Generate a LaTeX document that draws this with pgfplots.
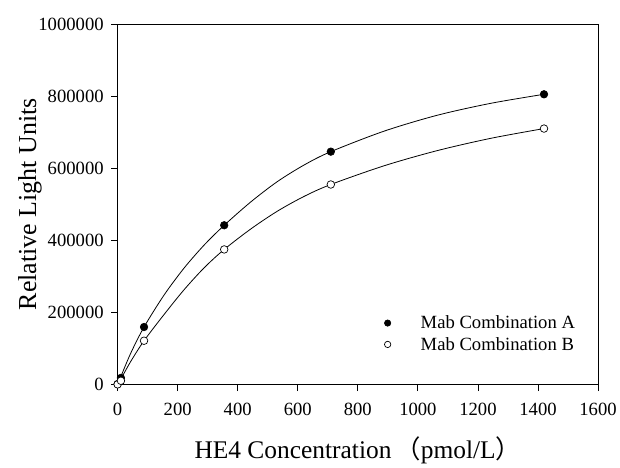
\documentclass[border=0pt]{standalone}
\usepackage{fontspec}
\setmainfont{Liberation Serif}
\newfontfamily\cjk{Noto Sans CJK SC}
\usepackage{pgfplots}
\pgfplotsset{compat=1.18}
\begin{document}
\begin{tikzpicture}
\begin{axis}[
  at={(0,0)}, anchor=south west,
  scale only axis, width=482bp, height=362bp,
  xmin=0, xmax=1600, ymin=0, ymax=1000000,
  xtick={0,200,...,1600}, ytick={0,200000,...,1000000},
  scaled y ticks=false, scaled x ticks=false,
  /pgf/number format/assume math mode=true,
  xticklabel style={/pgf/number format/fixed,/pgf/number format/1000 sep={}, yshift=-8bp},
  yticklabel style={/pgf/number format/fixed,/pgf/number format/1000 sep={}, xshift=-4bp},
  tick label style={font=\fontsize{18.7bp}{21bp}\selectfont},
  tick align=outside, tick pos=left, major tick length=6.5bp,
  axis line style={line width=0.8bp},
  every tick/.style={line width=0.8bp, black},
  xlabel={HE4 Concentration\hspace{4bp}{\cjk （}pmol/L{\cjk ）}},
  ylabel={Relative Light Units},
  every axis x label/.style={at={([yshift=-66bp]axis description cs:0.5,0)}, anchor=center, font=\fontsize{25.5bp}{28bp}\selectfont},
  every axis y label/.style={at={([xshift=-88bp]axis description cs:0,0.5)}, anchor=center, rotate=90, font=\fontsize{26bp}{28bp}\selectfont},
  legend style={at={(0.555,0.197)}, anchor=north west, draw=none, fill=none,
    font=\fontsize{18.7bp}{21bp}\selectfont, column sep=28bp, row sep=3bp,
    inner sep=0pt},
  legend image post style={mark size=3.2bp},
  legend cell align=left,
]
\addplot[black, line width=0.8bp, smooth, forget plot] coordinates {
(0,0)(11,23000)(44,88000)(88,160000)(155,249000)(221,323000)(288,387000)(355,442000)(444,507000)(532,563000)(621,609000)(710,646000)(888,703000)(1065,747000)(1243,780000)(1420,805000)};
\addplot[black, line width=0.8bp, smooth, forget plot] coordinates {
(0,0)(11,16000)(44,65000)(88,122000)(155,195000)(221,263000)(288,324000)(355,375000)(444,432000)(532,481000)(621,522000)(710,555000)(888,607000)(1065,649000)(1243,683000)(1420,710000)};
\addplot[only marks, mark=*, mark size=3.8bp, mark options={fill=black, draw=black, line width=0.6bp}] coordinates {
(0,2000)(11,19000)(88,160000)(355,442000)(710,646000)(1420,805000)};
\addlegendentry{Mab Combination A}
\addplot[only marks, mark=*, mark size=3.8bp, mark options={fill=white, draw=black, line width=0.7bp}] coordinates {
(0,1000)(11,11000)(88,122000)(355,375000)(710,555000)(1420,710000)};
\addlegendentry{Mab Combination B}
\end{axis}
\path[use as bounding box] (-118bp,-79bp) rectangle (502bp,386bp);
\end{tikzpicture}
\end{document}
